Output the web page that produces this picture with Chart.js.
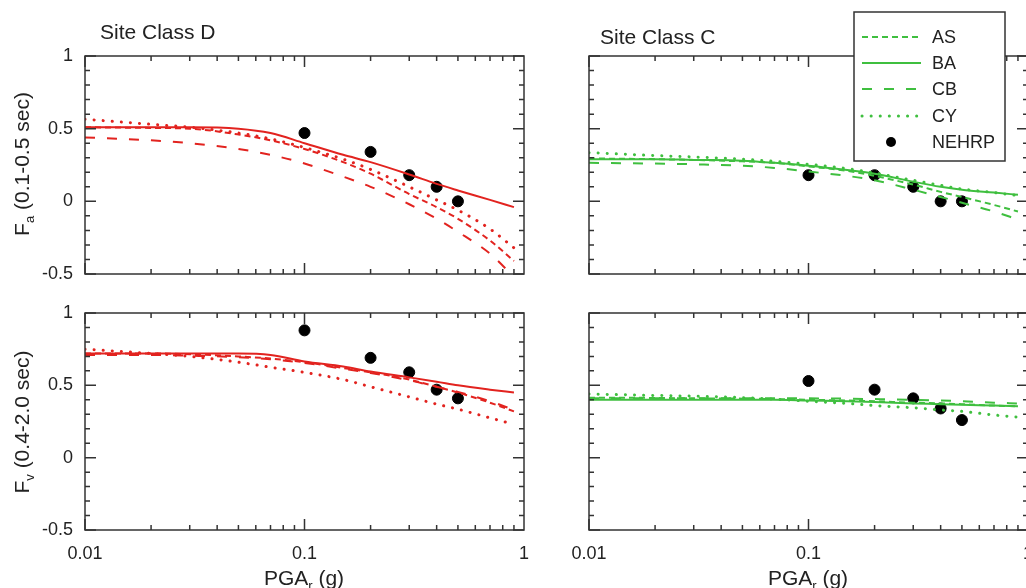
<!DOCTYPE html>
<html><head><meta charset="utf-8">
<script src="https://cdn.jsdelivr.net/npm/chart.js@4.4.1/dist/chart.umd.min.js"></script>
<style>
html,body{margin:0;padding:0;background:#fff;}
#wrap{position:relative;width:1026px;height:588px;overflow:hidden;background:#fff;font-family:"Liberation Sans",Arial,sans-serif;color:#222;}
.panel{position:absolute;}
.txt{position:absolute;white-space:nowrap;font-size:21px;line-height:24px;height:24px;}
.rot{transform:rotate(-90deg);transform-origin:50% 50%;text-align:center;width:220px;}
.ctr{text-align:center;width:200px;}
sub{font-size:13px;line-height:0;vertical-align:-5px;}
</style></head><body>
<div id="wrap">
  <div class="panel" style="left:0;top:0;width:560px;height:290px"><canvas id="cTL" width="560" height="290"></canvas></div>
  <div class="panel" style="left:560px;top:0;width:480px;height:290px"><canvas id="cTR" width="480" height="290"></canvas></div>
  <div class="panel" style="left:0;top:290px;width:560px;height:298px"><canvas id="cBL" width="560" height="298"></canvas></div>
  <div class="panel" style="left:560px;top:290px;width:480px;height:298px"><canvas id="cBR" width="480" height="298"></canvas></div>
  <div class="txt" style="left:100px;top:20px;">Site Class D</div>
  <div class="txt" style="left:600px;top:25px;">Site Class C</div>
  <div class="txt rot" style="left:-88px;top:152px;">F<sub>a</sub> (0.1-0.5 sec)</div>
  <div class="txt rot" style="left:-88px;top:410px;">F<sub>v</sub> (0.4-2.0 sec)</div>
  <div class="txt ctr" style="left:204px;top:566px;">PGA<sub>r</sub> (g)</div>
  <div class="txt ctr" style="left:708px;top:566px;">PGA<sub>r</sub> (g)</div>
</div>
<script>
// ---- data ----
const pga = [0.01, 0.02, 0.03, 0.05, 0.07, 0.1, 0.15, 0.2, 0.3, 0.4, 0.5, 0.7, 0.9];
const nehrpPga = [0.1, 0.2, 0.3, 0.4, 0.5];
const seriesNames = ['AS', 'BA', 'CB', 'CY', 'NEHRP'];
const xTickLabels = [0.01, 0.1, 1];
const yTickLabels = [-0.5, 0, 0.5, 1];

// Site Class D, Fa
const faD_AS = [0.51, 0.505, 0.50, 0.46, 0.42, 0.36, 0.27, 0.19, 0.05, -0.04, -0.12, -0.27, -0.41];
const faD_BA = [0.51, 0.51, 0.51, 0.50, 0.47, 0.40, 0.32, 0.27, 0.185, 0.12, 0.075, 0.01, -0.04];
const faD_CB = [0.44, 0.42, 0.40, 0.36, 0.32, 0.26, 0.17, 0.10, -0.02, -0.12, -0.21, -0.36, -0.52];
const faD_CY = [0.565, 0.53, 0.51, 0.47, 0.43, 0.37, 0.29, 0.22, 0.10, 0.01, -0.06, -0.19, -0.32];
const faD_NEHRP = [0.47, 0.34, 0.18, 0.10, 0.0];
// Site Class D, Fv
const fvD_AS = [0.72, 0.72, 0.715, 0.70, 0.685, 0.66, 0.62, 0.59, 0.54, 0.49, 0.45, 0.38, 0.32];
const fvD_BA = [0.72, 0.72, 0.72, 0.72, 0.71, 0.665, 0.63, 0.595, 0.555, 0.525, 0.50, 0.47, 0.45];
const fvD_CB = [0.71, 0.71, 0.705, 0.695, 0.68, 0.655, 0.615, 0.585, 0.535, 0.49, 0.455, 0.39, 0.33];
const fvD_CY = [0.75, 0.72, 0.70, 0.66, 0.625, 0.59, 0.54, 0.49, 0.42, 0.37, 0.335, 0.275, 0.23];
const fvD_NEHRP = [0.88, 0.69, 0.59, 0.47, 0.41];
// Site Class C, Fa
const faC_AS = [0.295, 0.29, 0.285, 0.275, 0.265, 0.24, 0.21, 0.175, 0.115, 0.065, 0.03, -0.025, -0.07];
const faC_BA = [0.29, 0.29, 0.285, 0.28, 0.265, 0.245, 0.215, 0.19, 0.135, 0.10, 0.08, 0.06, 0.045];
const faC_CB = [0.265, 0.26, 0.255, 0.245, 0.23, 0.205, 0.175, 0.145, 0.08, 0.03, -0.01, -0.07, -0.125];
const faC_CY = [0.335, 0.315, 0.305, 0.29, 0.275, 0.255, 0.225, 0.195, 0.145, 0.11, 0.085, 0.06, 0.04];
const faC_NEHRP = [0.18, 0.18, 0.10, 0.0, 0.0];
// Site Class C, Fv
const fvC_AS = [0.415, 0.413, 0.41, 0.408, 0.405, 0.40, 0.395, 0.39, 0.38, 0.375, 0.37, 0.36, 0.355];
const fvC_BA = [0.40, 0.40, 0.40, 0.40, 0.40, 0.395, 0.39, 0.385, 0.375, 0.37, 0.365, 0.36, 0.355];
const fvC_CB = [0.41, 0.41, 0.41, 0.41, 0.41, 0.41, 0.408, 0.405, 0.40, 0.395, 0.39, 0.38, 0.375];
const fvC_CY = [0.44, 0.43, 0.425, 0.415, 0.405, 0.39, 0.375, 0.36, 0.345, 0.33, 0.32, 0.295, 0.28];
const fvC_NEHRP = [0.53, 0.47, 0.41, 0.34, 0.26];

// ---- styling ----
const RED = '#e2231f';
const GREEN = '#3fbf3f';
const FRAME = '#333';
const FONT = '"Liberation Sans", Arial, sans-serif';
Chart.defaults.font.family = FONT;
Chart.defaults.color = '#222';

const styles = {
  AS: {borderDash: [6, 4], borderWidth: 2},
  BA: {borderDash: [], borderWidth: 2},
  CB: {borderDash: [10, 12], borderWidth: 2},
  CY: {borderDash: [0.1, 9], borderWidth: 3, borderCapStyle: 'round'}
};

function xy(xs, ys) { return xs.map((x, i) => ({x: x, y: ys[i]})); }

function buildDatasets(color, AS, BA, CB, CY, NE) {
  const lines = {AS, BA, CB, CY};
  const ds = Object.keys(lines).map(k => Object.assign({
    label: k, data: xy(pga, lines[k]), borderColor: color, backgroundColor: color,
    pointRadius: 0, fill: false, tension: 0.4, cubicInterpolationMode: 'monotone'
  }, styles[k]));
  ds.push({label: 'NEHRP', data: xy(nehrpPga, NE), showLine: false, pointRadius: 5.5,
    pointBackgroundColor: '#000', pointBorderColor: '#000', borderColor: '#000', backgroundColor: '#000'});
  return ds;
}

const framePlugin = {
  id: 'frame',
  afterDatasetsDraw(chart) {
    const {ctx, chartArea: a, scales: {x, y}} = chart;
    ctx.save();
    ctx.strokeStyle = FRAME;
    ctx.lineWidth = 1.5;
    ctx.beginPath();
    for (let i = -5; i <= 10; i++) {
      const v = i / 10;
      const py = y.getPixelForValue(v);
      const len = (i % 5 === 0) ? 11 : 5;
      ctx.moveTo(a.left, py); ctx.lineTo(a.left + len, py);
      ctx.moveTo(a.right, py); ctx.lineTo(a.right - len, py);
    }
    [0.01, 0.1].forEach(dec => {
      for (let k = 1; k <= 9; k++) {
        const v = k * dec;
        const px = x.getPixelForValue(v);
        const len = (k === 1) ? 11 : 5;
        ctx.moveTo(px, a.bottom); ctx.lineTo(px, a.bottom - len);
        ctx.moveTo(px, a.top); ctx.lineTo(px, a.top + len);
      }
    });
    ctx.stroke();
    ctx.strokeRect(a.left, a.top, a.width, a.height);
    ctx.restore();
  }
};

const legendPlugin = {
  id: 'boxLegend',
  afterDraw(chart) {
    if (!chart.options.plugins.boxLegend || !chart.options.plugins.boxLegend.show) return;
    const ctx = chart.ctx;
    const bx = 294, by = 12, bw = 151, bh = 149;
    ctx.save();
    ctx.fillStyle = '#fff';
    ctx.fillRect(bx, by, bw, bh);
    ctx.strokeStyle = FRAME; ctx.lineWidth = 1.5;
    ctx.strokeRect(bx, by, bw, bh);
    const rows = [37, 63, 89, 116, 142];
    ctx.font = '18px ' + FONT;
    ctx.textBaseline = 'middle';
    seriesNames.forEach((name, i) => {
      const yy = by + rows[i] - 12;
      if (name === 'NEHRP') {
        ctx.fillStyle = '#000';
        ctx.beginPath(); ctx.arc(331, yy, 5, 0, Math.PI * 2); ctx.fill();
      } else {
        const s = styles[name];
        ctx.strokeStyle = GREEN; ctx.lineWidth = s.borderWidth;
        ctx.lineCap = s.borderCapStyle || 'butt';
        ctx.setLineDash(s.borderDash);
        ctx.beginPath(); ctx.moveTo(302, yy); ctx.lineTo(361, yy); ctx.stroke();
        ctx.setLineDash([]); ctx.lineCap = 'butt';
      }
      ctx.fillStyle = '#222';
      ctx.fillText(name, 372, yy + 1);
    });
    ctx.restore();
  }
};

function zeroPad(s) { s.paddingLeft = 0; s.paddingRight = 0; s.paddingTop = 0; s.paddingBottom = 0; }

function makeChart(id, datasets, o) {
  return new Chart(document.getElementById(id), {
    type: 'line',
    data: {datasets},
    plugins: [framePlugin, legendPlugin],
    options: {
      responsive: false, animation: false,
      layout: {padding: o.padding},
      plugins: {legend: {display: false}, tooltip: {enabled: false}, boxLegend: {show: !!o.legend}},
      scales: {
        x: {
          type: 'logarithmic', min: 0.01, max: 1,
          grid: {display: false, drawTicks: false}, border: {display: false},
          afterBuildTicks: s => { s.ticks = xTickLabels.map(v => ({value: v})); },
          afterFit: s => { s.height = o.xHeight; zeroPad(s); },
          ticks: {display: o.showX, autoSkip: false, maxRotation: 0, padding: 13,
            font: {size: 18}, color: '#222', callback: v => String(v)}
        },
        y: {
          type: 'linear', min: -0.5, max: 1,
          grid: {display: false, drawTicks: false}, border: {display: false},
          afterBuildTicks: s => { s.ticks = yTickLabels.map(v => ({value: v})); },
          afterFit: s => { s.width = o.yWidth; zeroPad(s); },
          ticks: {display: o.showY, autoSkip: false, padding: 12,
            font: {size: 18}, color: '#222', callback: v => String(v)}
        }
      }
    }
  });
}

makeChart('cTL', buildDatasets(RED, faD_AS, faD_BA, faD_CB, faD_CY, faD_NEHRP),
  {padding: {top: 56, right: 36, bottom: 0, left: 0}, yWidth: 85, xHeight: 16, showX: false, showY: true});
makeChart('cBL', buildDatasets(RED, fvD_AS, fvD_BA, fvD_CB, fvD_CY, fvD_NEHRP),
  {padding: {top: 23, right: 36, bottom: 0, left: 0}, yWidth: 85, xHeight: 58, showX: true, showY: true});
makeChart('cTR', buildDatasets(GREEN, faC_AS, faC_BA, faC_CB, faC_CY, faC_NEHRP),
  {padding: {top: 56, right: 12, bottom: 0, left: 0}, yWidth: 29, xHeight: 16, showX: false, showY: false, legend: true});
makeChart('cBR', buildDatasets(GREEN, fvC_AS, fvC_BA, fvC_CB, fvC_CY, fvC_NEHRP),
  {padding: {top: 23, right: 12, bottom: 0, left: 0}, yWidth: 29, xHeight: 58, showX: true, showY: false});
</script>
</body></html>
